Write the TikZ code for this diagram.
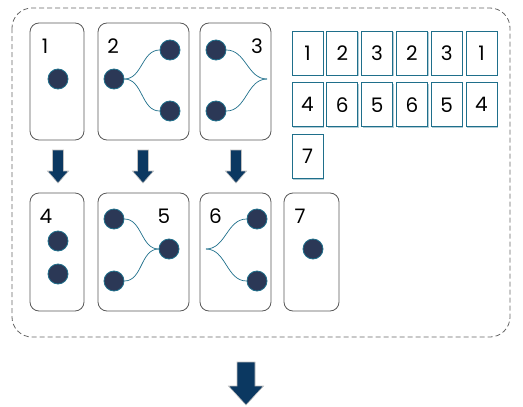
\documentclass[tikz,border=0pt]{standalone}
\usepackage{fontspec}
\setmainfont{Poppins}
\usetikzlibrary{positioning,shadows}
\definecolor{navy}{HTML}{2B3856}
\definecolor{tealline}{HTML}{1F6F8B}
\definecolor{arrowblue}{HTML}{0B3861}

\begin{document}
\begin{tikzpicture}[%
            x=1pt, y=-1pt,
            panel/.style={draw=black!65, line width=0.8pt, rounded corners=9pt, minimum width=#1, minimum height=117pt, inner sep=0pt},
            mypoint/.style={shape=circle, fill=navy, draw=tealline, line width=0.8pt, minimum size=20pt, inner sep=0pt},
            mylabel/.style={font=\fontsize{20}{24}\selectfont, inner sep=0pt},
            link/.style={draw=tealline, line width=0.7pt},
            cell/.style={draw=tealline, line width=0.8pt, fill=white, minimum width=31pt, minimum height=44pt, inner sep=0pt,
                         font=\fontsize{20}{24}\selectfont,
                         drop shadow={shadow xshift=1.2pt, shadow yshift=-1.2pt, fill=tealline!35, opacity=1}},
            blockarrow/.style={fill=arrowblue, draw=black!25, line width=0.6pt}
    ]
        \useasboundingbox (0,0) rectangle (523,407);
        \draw [black!60, line width=0.8pt, dash pattern=on 5pt off 3pt, rounded corners=20pt] (12,8) rectangle (510,337);

        % top row
        \node [panel=54pt] (p1) at (57,81.5) {};
        \node [panel=91pt] (p2) at (143.5,81.5) {};
        \node [panel=71pt] (p3) at (235.5,81.5) {};
        \node [mylabel] (l1) at (45,46) {1};
        \node [mylabel] (l2) at (113,46) {2};
        \node [mylabel] (l3) at (257,46) {3};

        \node [mypoint] (d11) at (58,79) {};
        \node [mypoint] (d21) at (114,79) {};
        \node [mypoint] (d22) at (170,50) {};
        \node [mypoint] (d23) at (170,111) {};
        \node [mypoint] (d31) at (216,50) {};
        \node [mypoint] (d32) at (216,111) {};
        \coordinate (j3) at (267,79);

        \draw [link] (d21.east) to[out=0,in=180] (d22.west);
        \draw [link] (d21.east) to[out=0,in=180] (d23.west);
        \draw [link] (d31.east) to[out=0,in=180] (j3);
        \draw [link] (d32.east) to[out=0,in=180] (j3);

        % arrows between the rows
        \filldraw [blockarrow] (52.5,150) -- ++(11,0) -- ++(0,21) -- ++(5,0) -- ++(-10.5,12) -- ++(-10.5,-12) -- ++(5,0) -- cycle;
        \filldraw [blockarrow] (137.5,150) -- ++(11,0) -- ++(0,21) -- ++(5,0) -- ++(-10.5,12) -- ++(-10.5,-12) -- ++(5,0) -- cycle;
        \filldraw [blockarrow] (230.5,150) -- ++(11,0) -- ++(0,21) -- ++(5,0) -- ++(-10.5,12) -- ++(-10.5,-12) -- ++(5,0) -- cycle;

        % bottom row
        \node [panel=54pt, minimum height=118pt] (p4) at (57,252) {};
        \node [panel=91pt, minimum height=118pt] (p5) at (143.5,252) {};
        \node [panel=71pt, minimum height=118pt] (p6) at (235.5,252) {};
        \node [panel=55pt, minimum height=118pt] (p7) at (311.5,252) {};
        \node [mylabel] (l4) at (46,216) {4};
        \node [mylabel] (l5) at (164,216) {5};
        \node [mylabel] (l6) at (215.5,216) {6};
        \node [mylabel] (l7) at (300,216) {7};

        \node [mypoint] (d41) at (58,241) {};
        \node [mypoint] (d42) at (58,274) {};
        \node [mypoint] (d51) at (114,219) {};
        \node [mypoint] (d52) at (114,281) {};
        \node [mypoint] (d53) at (169,249) {};
        \node [mypoint] (d61) at (257,219) {};
        \node [mypoint] (d62) at (257,281) {};
        \node [mypoint] (d71) at (313,249) {};
        \coordinate (j6) at (206,249);

        \draw [link] (d51.east) to[out=0,in=180] (d53.west);
        \draw [link] (d52.east) to[out=0,in=180] (d53.west);
        \draw [link] (j6) to[out=0,in=180] (d61.west);
        \draw [link] (j6) to[out=0,in=180] (d62.west);

        % sequence cells
        \node [cell] (r1c1) at (307.5,53) {1};
        \node [cell, right=3pt of r1c1] (r1c2) {2};
        \node [cell, right=3pt of r1c2] (r1c3) {3};
        \node [cell, right=3pt of r1c3] (r1c4) {2};
        \node [cell, right=3pt of r1c4] (r1c5) {3};
        \node [cell, right=3pt of r1c5] (r1c6) {1};
        \node [cell, below=7pt of r1c1] (r2c1) {4};
        \node [cell, right=3pt of r2c1] (r2c2) {6};
        \node [cell, right=3pt of r2c2] (r2c3) {5};
        \node [cell, right=3pt of r2c3] (r2c4) {6};
        \node [cell, right=3pt of r2c4] (r2c5) {5};
        \node [cell, right=3pt of r2c5] (r2c6) {4};
        \node [cell, below=7pt of r2c1] (r3c1) {7};

        \filldraw [blockarrow] (237,362) -- ++(18,0) -- ++(0,24) -- ++(8.5,0) -- ++(-17.5,19) -- ++(-17.5,-19) -- ++(8.5,0) -- cycle;
    \end{tikzpicture}
\end{document}
